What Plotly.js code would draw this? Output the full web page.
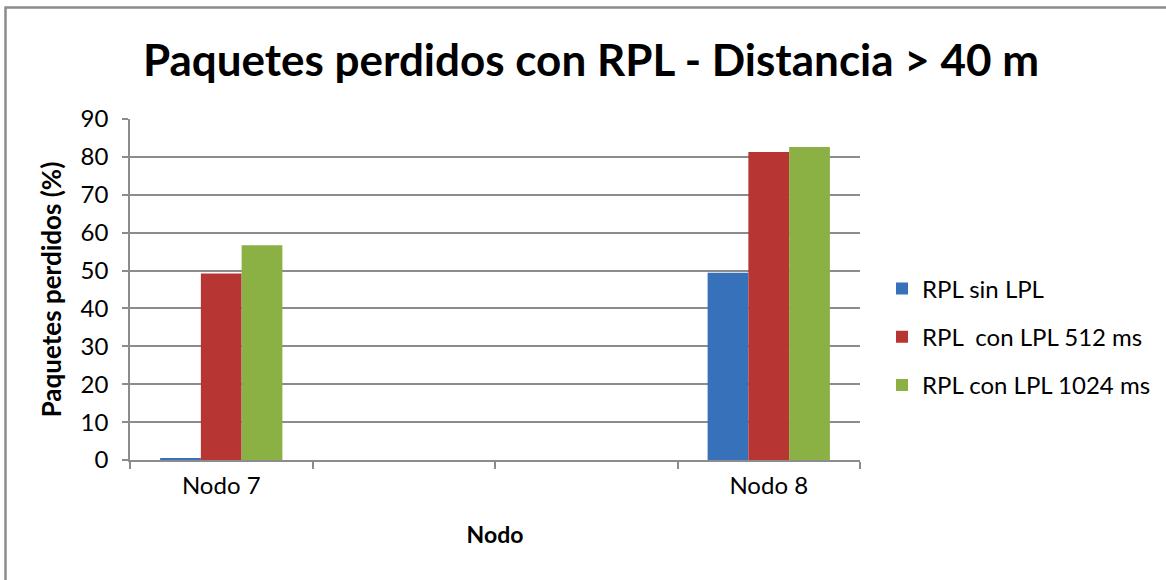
<!DOCTYPE html>
<html>
<head>
<meta charset="utf-8">
<script src="https://cdn.plot.ly/plotly-3.0.1.min.js"></script>
<style>
  html, body { margin: 0; padding: 0; background: #ffffff; }
  #chart { width: 1166px; height: 580px; }
</style>
</head>
<body>
<div id="chart"></div>
<script>
// Categories (two empty slots between the nodes, as in the original sheet)
const categories = ["Nodo 7", " ", "  ", "Nodo 8"];
const seriesNames = ["RPL sin LPL", "RPL  con LPL 512 ms", "RPL con LPL 1024 ms"];
const rplSinLpl   = [0.3, null, null, 49.4];
const rplLpl512   = [49.2, null, null, 81.3];
const rplLpl1024  = [56.7, null, null, 82.6];
const yTicks = [0, 10, 20, 30, 40, 50, 60, 70, 80, 90];

const colors = ["#3671ba", "#b73532", "#8bb043"];
const FONT = "Lato, 'Open Sans', 'DejaVu Sans', sans-serif";

const series = [rplSinLpl, rplLpl512, rplLpl1024];
const traces = series.map((vals, i) => ({
  type: "bar",
  name: seriesNames[i],
  x: categories,
  y: vals,
  marker: { color: colors[i], line: { width: 0 } },
  legendgroup: "g" + i,
  hoverinfo: "x+y+name"
}));

// pixel helpers for the outer chart frame (styling only)
const L = 130, R = 306, T = 119, B = 120, W = 1166, H = 580;
const pw = W - L - R, ph = H - T - B;
const px = v => (v - L) / pw;
const py = v => (H - B - v) / ph;

const layout = {
  width: W, height: H,
  margin: { l: L, r: R, t: T, b: B, pad: 0, autoexpand: false },
  paper_bgcolor: "#ffffff",
  plot_bgcolor: "#ffffff",
  font: { family: FONT, size: 24, color: "#000000" },
  title: {
    text: "<b>Paquetes perdidos con RPL - Distancia > 40 m</b>",
    font: { family: FONT, size: 44, color: "#000000" },
    x: 591 / W, xanchor: "center",
    y: 1 - 61 / H, yanchor: "middle"
  },
  barmode: "group",
  bargap: 0.33,
  bargroupgap: 0,
  showlegend: true,
  legend: {
    x: px(882), xanchor: "left",
    y: py(337), yanchor: "middle",
    font: { family: FONT, size: 24, color: "#000000" },
    tracegroupgap: 14,
    itemwidth: 30,
    bgcolor: "rgba(0,0,0,0)"
  },
  xaxis: {
    type: "category",
    categoryorder: "array",
    categoryarray: categories,
    tickson: "boundaries",
    ticks: "outside",
    ticklen: 7,
    tickwidth: 1.5,
    tickcolor: "#8c8c8c",
    ticklabelstandoff: 3,
    showline: true,
    linecolor: "#8c8c8c",
    linewidth: 1.5,
    showgrid: false,
    zeroline: false,
    automargin: false,
    tickfont: { family: FONT, size: 24, color: "#000000" },
    title: { text: "<b>Nodo</b>", font: { family: FONT, size: 23, color: "#000000" }, standoff: 29 }
  },
  yaxis: {
    range: [0, 90],
    tickmode: "array",
    tickvals: yTicks,
    ticktext: yTicks.map(String),
    ticks: "outside",
    ticklen: 6,
    tickwidth: 1.5,
    tickcolor: "#8c8c8c",
    ticklabelstandoff: 9,
    showline: true,
    linecolor: "#8c8c8c",
    linewidth: 1.5,
    showgrid: true,
    gridcolor: "#8c8c8c",
    gridwidth: 1.5,
    zeroline: false,
    automargin: false,
    tickfont: { family: FONT, size: 24, color: "#000000" },
    title: { text: "<b>Paquetes perdidos (%)</b>", font: { family: FONT, size: 26, color: "#000000" }, standoff: 12 }
  },
  shapes: [
    {
      type: "rect", xref: "paper", yref: "paper",
      x0: px(5.5), x1: px(W + 4), y0: py(H + 4), y1: py(7.5),
      line: { color: "#8c8c8c", width: 2.5 },
      fillcolor: "rgba(0,0,0,0)",
      layer: "below"
    }
  ]
};

Plotly.newPlot("chart", traces, layout, { displayModeBar: false, responsive: false });
</script>
</body>
</html>
